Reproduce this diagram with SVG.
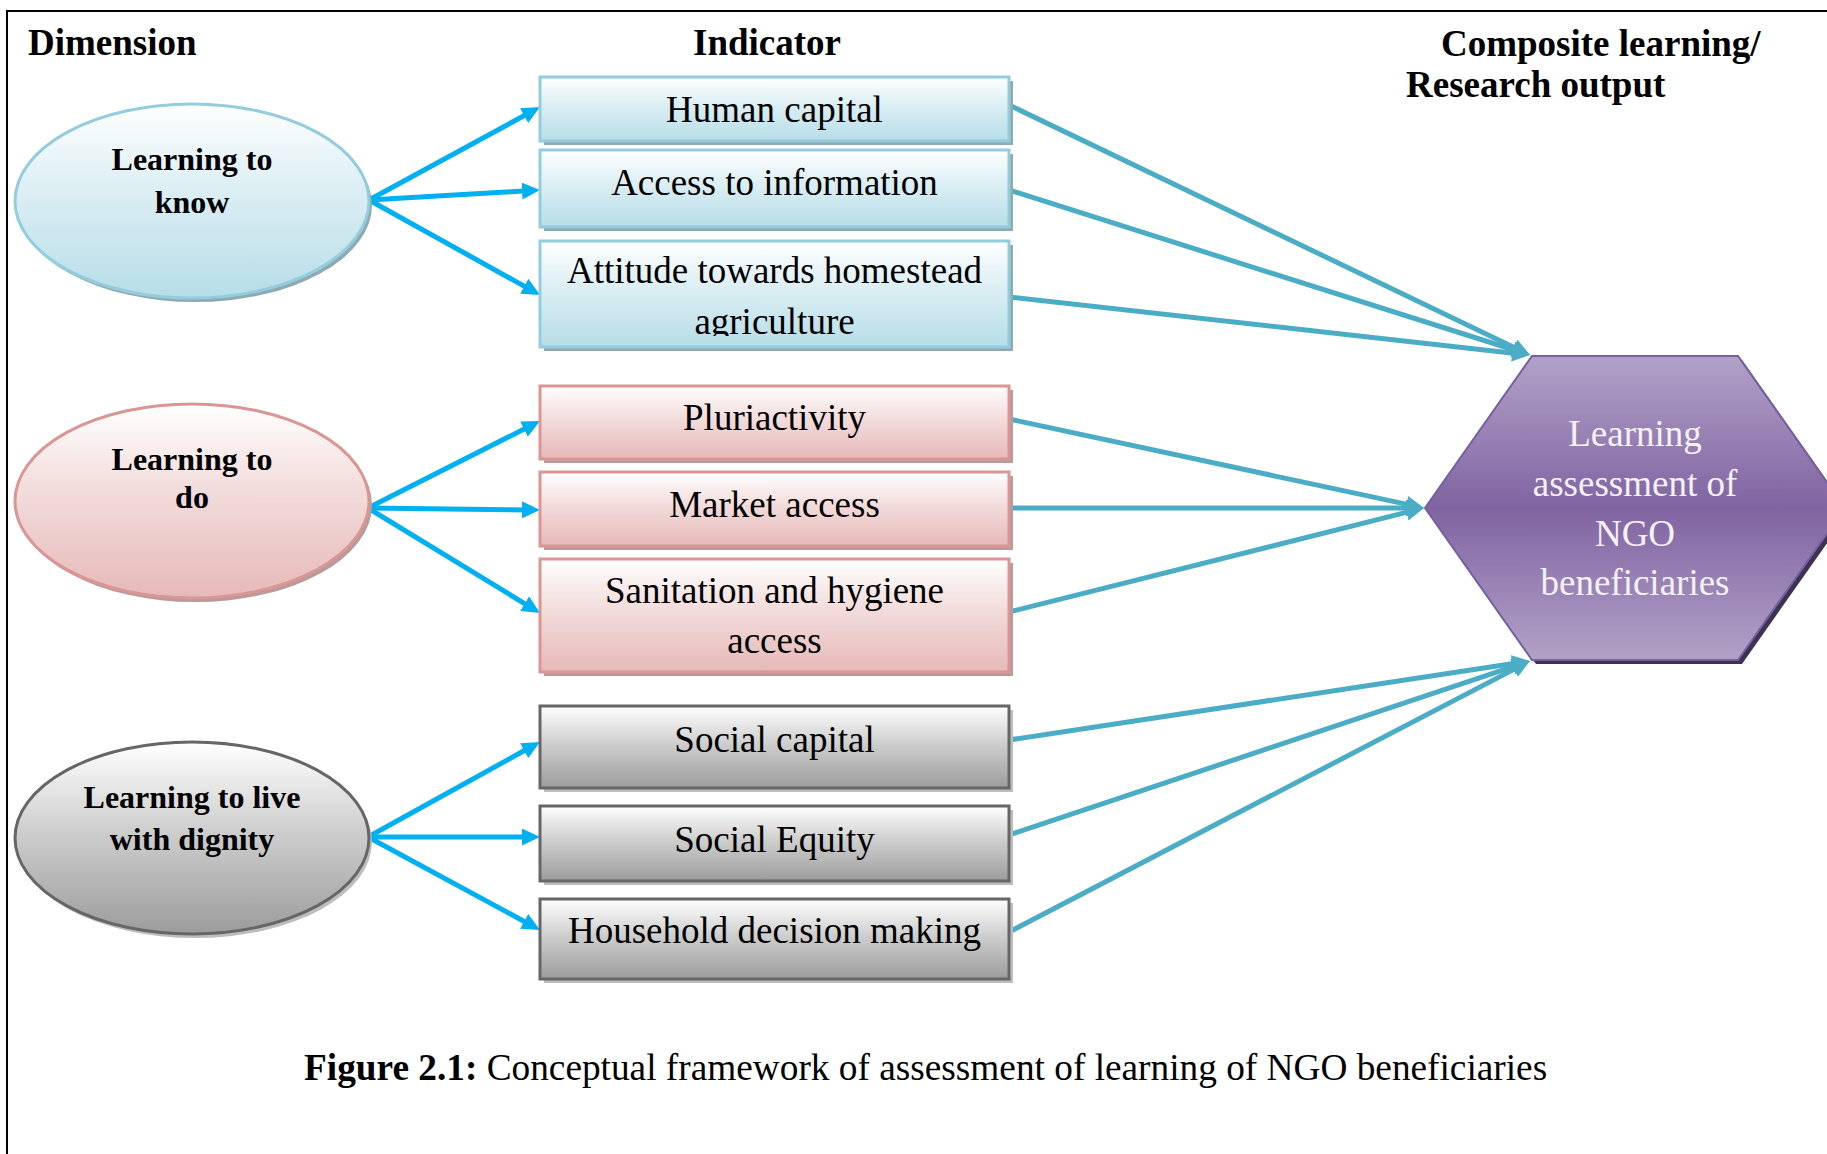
<svg xmlns="http://www.w3.org/2000/svg" width="1827" height="1154" viewBox="0 0 1827 1154">
  <style>
    .hdr { font-family: "Liberation Serif", "Times New Roman", serif; font-weight: bold; font-size: 37px; fill: #000; }
    .dim { font-family: "Liberation Serif", "Times New Roman", serif; font-weight: bold; font-size: 32px; fill: #000; text-anchor: middle; }
    .ind { font-family: "Liberation Serif", "Times New Roman", serif; font-size: 37px; fill: #000; text-anchor: middle; }
    .out { font-family: "Liberation Serif", "Times New Roman", serif; font-size: 37px; fill: #f4f2f8; text-anchor: middle; }
    .cap { font-family: "Liberation Serif", "Times New Roman", serif; font-size: 37.3px; fill: #000; }
    .blue { fill: url(#gBlue); stroke: #93cddd; stroke-width: 3; }
    .pink { fill: url(#gPink); stroke: #d99694; stroke-width: 3; }
    .gray { fill: url(#gGray); stroke: #666666; stroke-width: 3; }
    .shB { fill: #8fa9b1; }
    .shP { fill: #b89a9a; }
    .shG { fill: #bdbdbd; }
    .in { stroke: #00b0f0; stroke-width: 5; fill: none; marker-end: url(#headIn); }
    .to { stroke: #4bacc6; stroke-width: 5; fill: none; marker-end: url(#headOut); }
  </style>
  <defs>
    <linearGradient id="gBlue" x1="0" y1="0" x2="0" y2="1">
      <stop offset="0" stop-color="#ffffff"/>
      <stop offset="0.45" stop-color="#dbeef3"/>
      <stop offset="1" stop-color="#b7dde8"/>
    </linearGradient>
    <linearGradient id="gPink" x1="0" y1="0" x2="0" y2="1">
      <stop offset="0" stop-color="#ffffff"/>
      <stop offset="0.45" stop-color="#f2dcdb"/>
      <stop offset="1" stop-color="#e6b9b8"/>
    </linearGradient>
    <linearGradient id="gGray" x1="0" y1="0" x2="0" y2="1">
      <stop offset="0" stop-color="#ffffff"/>
      <stop offset="0.45" stop-color="#cfcfcf"/>
      <stop offset="1" stop-color="#9c9c9c"/>
    </linearGradient>
    <linearGradient id="gHex" x1="0" y1="0" x2="0" y2="1">
      <stop offset="0" stop-color="#b2a1c7"/>
      <stop offset="0.5" stop-color="#8064a2"/>
      <stop offset="1" stop-color="#b2a1c7"/>
    </linearGradient>
    <marker id="headIn" markerUnits="userSpaceOnUse" markerWidth="20" markerHeight="18" refX="8" refY="8.5" orient="auto">
      <path d="M0,0 L18,8.5 L0,17 Z" fill="#00b0f0"/>
    </marker>
    <marker id="headOut" markerUnits="userSpaceOnUse" markerWidth="20" markerHeight="18" refX="8" refY="8.5" orient="auto">
      <path d="M0,0 L18,8.5 L0,17 Z" fill="#4bacc6"/>
    </marker>
    <clipPath id="clipAttitude">
      <rect x="540" y="241" width="469" height="95"/>
    </clipPath>
  </defs>

  <rect width="1827" height="1154" fill="#ffffff"/>
  <!-- outer frame -->
  <path d="M7,1154 V11 H1827" fill="none" stroke="#000" stroke-width="2"/>

  <!-- column headings -->
  <text class="hdr" x="28" y="55">Dimension</text>
  <text class="hdr" x="767" y="55" text-anchor="middle">Indicator</text>
  <text class="hdr" x="1441" y="56">Composite learning/</text>
  <text class="hdr" x="1406" y="97">Research output</text>

  <!-- connectors -->
  <g id="connectors">
    <path class="in" d="M369,200 L531.2,111.8"/>
    <path class="in" d="M369,200 L530,190.6"/>
    <path class="in" d="M369,200 L531.3,290.1"/>
    <path class="in" d="M368,508 L531.1,425.5"/>
    <path class="in" d="M368,508 L530,509.9"/>
    <path class="in" d="M368,508 L531.5,607.8"/>
    <path class="in" d="M368,837 L531.2,746.8"/>
    <path class="in" d="M368,837 L530,837"/>
    <path class="in" d="M368,837 L531.2,925.2"/>

    <path class="to" d="M1009,105 L1521,350.7"/>
    <path class="to" d="M1009,190 L1520.5,352"/>
    <path class="to" d="M1009,297 L1520.1,353.9"/>
    <path class="to" d="M1009,419 L1414.2,505.9"/>
    <path class="to" d="M1009,508 L1414,508"/>
    <path class="to" d="M1009,612 L1414.3,510.4"/>
    <path class="to" d="M1009,740 L1520.1,662.5"/>
    <path class="to" d="M1009,835 L1520.5,664.2"/>
    <path class="to" d="M1009,932 L1521.1,665.6"/>
  </g>

  <!-- dimensions -->
  <g id="dim-know">
    <ellipse cx="195" cy="205" rx="177" ry="97" class="shB"/>
    <ellipse cx="192" cy="201" rx="177" ry="97" class="blue"/>
    <text class="dim" x="192" y="170">Learning to</text>
    <text class="dim" x="192" y="213">know</text>
  </g>
  <g id="dim-do">
    <ellipse cx="195" cy="505" rx="177" ry="97" class="shP"/>
    <ellipse cx="192" cy="501" rx="177" ry="97" class="pink"/>
    <text class="dim" x="192" y="470">Learning to</text>
    <text class="dim" x="192" y="508">do</text>
  </g>
  <g id="dim-dignity">
    <ellipse cx="195" cy="842" rx="177" ry="96" class="shG"/>
    <ellipse cx="192" cy="838" rx="177" ry="96" class="gray"/>
    <text class="dim" x="192" y="808">Learning to live</text>
    <text class="dim" x="192" y="850">with dignity</text>
  </g>

  <!-- indicators: learning to know -->
  <g id="ind-human-capital">
    <rect x="544" y="81" width="469" height="64" class="shB"/>
    <rect x="540" y="77" width="469" height="64" class="blue"/>
    <text class="ind" x="774.5" y="122">Human capital</text>
  </g>
  <g id="ind-information">
    <rect x="544" y="154" width="469" height="77" class="shB"/>
    <rect x="540" y="150" width="469" height="77" class="blue"/>
    <text class="ind" x="774.5" y="195">Access to information</text>
  </g>
  <g id="ind-attitude">
    <rect x="544" y="245" width="469" height="106" class="shB"/>
    <rect x="540" y="241" width="469" height="106" class="blue"/>
    <g clip-path="url(#clipAttitude)">
      <text class="ind" x="774.5" y="283">Attitude towards homestead</text>
      <text class="ind" x="774.5" y="334">agriculture</text>
    </g>
  </g>

  <!-- indicators: learning to do -->
  <g id="ind-pluriactivity">
    <rect x="544" y="390" width="469" height="73" class="shP"/>
    <rect x="540" y="386" width="469" height="73" class="pink"/>
    <text class="ind" x="774.5" y="430">Pluriactivity</text>
  </g>
  <g id="ind-market">
    <rect x="544" y="476" width="469" height="74" class="shP"/>
    <rect x="540" y="472" width="469" height="74" class="pink"/>
    <text class="ind" x="774.5" y="517">Market access</text>
  </g>
  <g id="ind-sanitation">
    <rect x="544" y="563" width="469" height="113" class="shP"/>
    <rect x="540" y="559" width="469" height="113" class="pink"/>
    <text class="ind" x="774.5" y="603">Sanitation and hygiene</text>
    <text class="ind" x="774.5" y="653">access</text>
  </g>

  <!-- indicators: learning to live with dignity -->
  <g id="ind-social-capital">
    <rect x="544" y="710" width="469" height="82" class="shG"/>
    <rect x="540" y="706" width="469" height="82" class="gray"/>
    <text class="ind" x="774.5" y="752">Social capital</text>
  </g>
  <g id="ind-social-equity">
    <rect x="544" y="810" width="469" height="75" class="shG"/>
    <rect x="540" y="806" width="469" height="75" class="gray"/>
    <text class="ind" x="774.5" y="852">Social Equity</text>
  </g>
  <g id="ind-household">
    <rect x="544" y="903" width="469" height="80" class="shG"/>
    <rect x="540" y="899" width="469" height="80" class="gray"/>
    <text class="ind" x="774.5" y="943">Household decision making</text>
  </g>

  <!-- composite output -->
  <g id="output">
    <polygon points="1536,360 1742,360 1849,512 1742,664 1536,664 1429,512" fill="#3f3151"/>
    <polygon points="1532,356 1738,356 1845,508 1738,660 1532,660 1425,508" fill="url(#gHex)" stroke="#7560a0" stroke-width="2"/>
    <text class="out" x="1635" y="446">Learning</text>
    <text class="out" x="1635" y="496">assessment of</text>
    <text class="out" x="1635" y="546">NGO</text>
    <text class="out" x="1635" y="595">beneficiaries</text>
  </g>

  <!-- caption -->
  <text class="cap" x="304" y="1080"><tspan font-weight="bold">Figure 2.1:</tspan> Conceptual framework of assessment of learning of NGO beneficiaries</text>
</svg>
